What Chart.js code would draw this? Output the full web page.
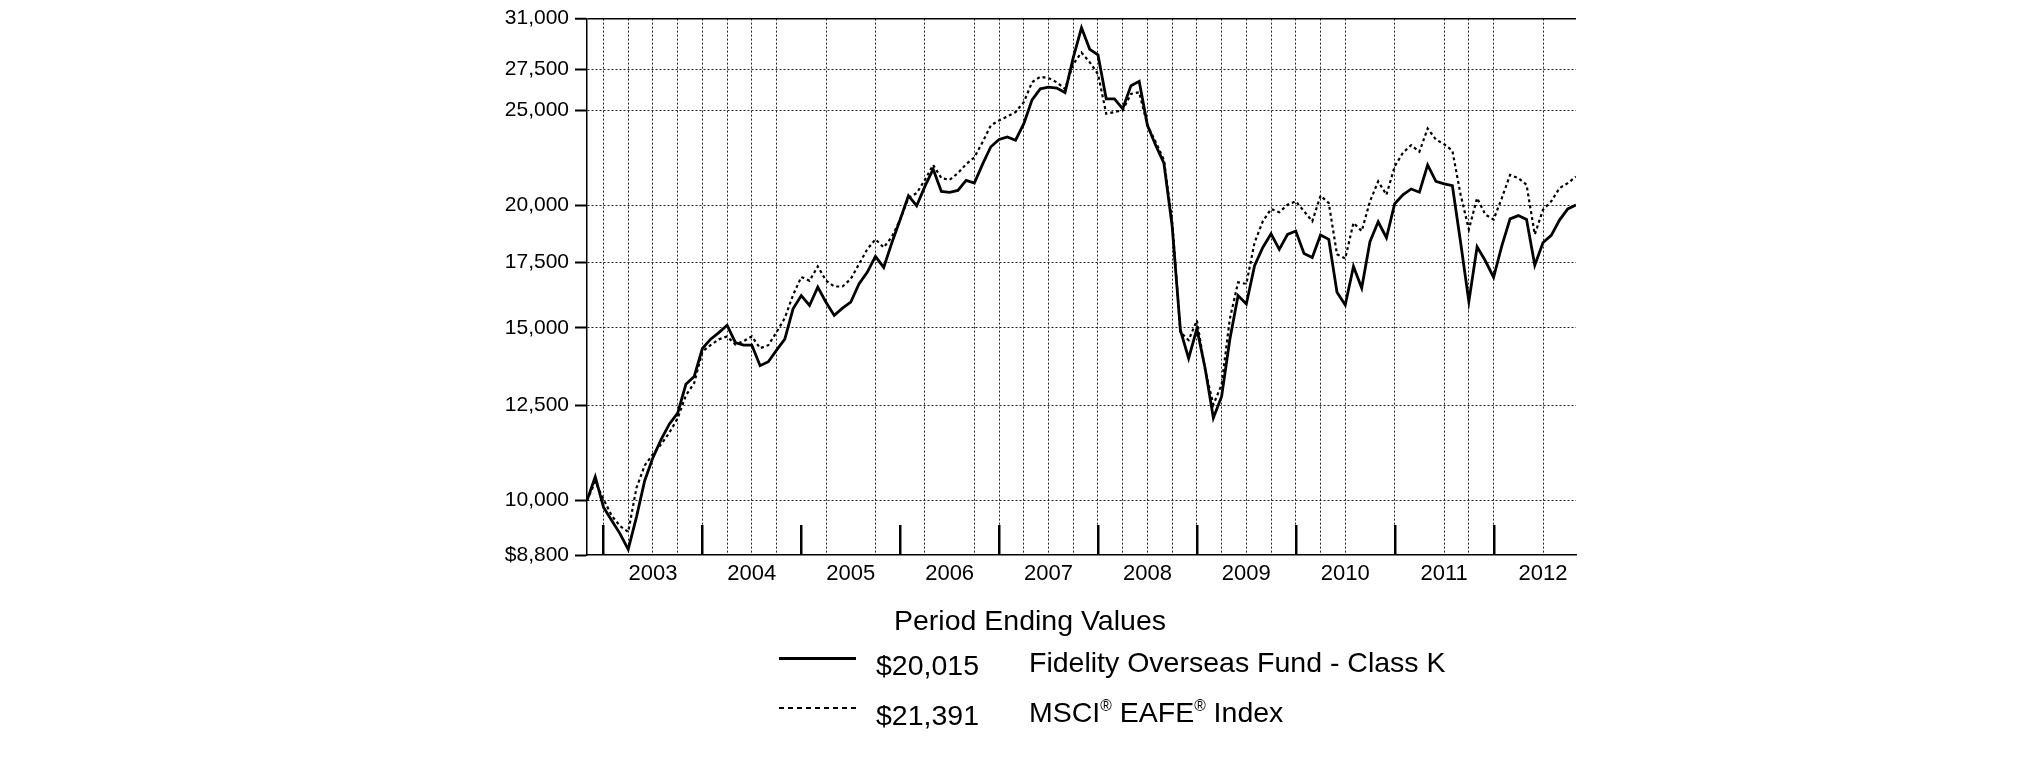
<!DOCTYPE html>
<html>
<head>
<meta charset="utf-8">
<script src="https://cdn.jsdelivr.net/npm/chart.js@4.4.1/dist/chart.umd.min.js"></script>
<style>
  html, body { margin: 0; padding: 0; background: #fff; }
  body { width: 2025px; height: 761px; position: relative; overflow: hidden;
         font-family: 'Liberation Sans', Arial, sans-serif; color: #000; }
  #chart { position: absolute; left: 0; top: 0; }
  .lg { position: absolute; font-size: 28.5px; line-height: 34px; white-space: pre; }
  .lg sup { font-size: 55%; vertical-align: 0.7em; line-height: 0; }
  .swatch { position: absolute; left: 779px; width: 77px; }
  .solid { height: 3px; background: #000; }
  .dashed { height: 2px; background: repeating-linear-gradient(to right, #000 0 5px, transparent 5px 9px); }
</style>
</head>
<body>
<canvas id="chart" width="2025" height="761"></canvas>

<div class="lg" style="left:830px; width:400px; text-align:center; top:603px;">Period Ending Values</div>
<div class="swatch solid" style="top:657px;"></div>
<div class="lg" style="left:876px; top:648px;">$20,015</div>
<div class="lg" style="left:1029px; top:645px;">Fidelity Overseas Fund - Class K</div>
<div class="swatch dashed" style="top:707px;"></div>
<div class="lg" style="left:876px; top:698px;">$21,391</div>
<div class="lg" style="left:1029px; top:695px;">MSCI<sup>®</sup> EAFE<sup>®</sup> Index</div>

<script>
Chart.defaults.font.family = "'Liberation Sans', Arial, sans-serif";
Chart.defaults.color = '#000';

// months counted from Oct 2002 (index 0) to Oct 2012 (index 120)
const yearLabels = ['2003', '2004', '2005', '2006', '2007', '2008', '2009', '2010', '2011', '2012'];
const yearLabelMonths = [8, 20, 32, 44, 56, 68, 80, 92, 104, 116];   // mid-year
const yearTickMonths = [2, 14, 26, 38, 50, 62, 74, 86, 98, 110];     // year ends
const gridMonths = [2, 5, 8, 11, 14, 17, 20, 23, 29, 35, 41, 47, 50, 53, 56, 59,
                    62, 65, 68, 71, 74, 77, 80, 83, 86, 89, 92, 98, 104, 107, 110, 116];
const yTicks = [8800, 10000, 12500, 15000, 17500, 20000, 25000, 27500, 31000];

const fundValues = [
  10000, 10575, 9845, 9545, 9254, 8917, 9619, 10477, 11061, 11543, 11970, 12281,
  13139, 13378, 14289, 14606, 14833, 15091, 14493, 14406, 14406, 13724, 13853, 14236,
  14606, 15684, 16180, 15808, 16503, 15930, 15444, 15709, 15930, 16631, 17087, 17738,
  17285, 18324, 19343, 20455, 19980, 20908, 21770, 20664, 20620, 20712, 21202, 21068,
  22026, 22945, 23338, 23484, 23300, 24226, 25617, 26286, 26390, 26340, 26058, 28290,
  30340, 28845, 28466, 25677, 25677, 25085, 26485, 26756, 24130, 23030, 22077, 19049,
  14917, 13959, 14969, 13640, 12140, 12770, 14600, 16180, 15862, 17353, 18113, 18708,
  18036, 18677, 18826, 17858, 17692, 18651, 18464, 16305, 15828, 17326, 16469, 18364,
  19238, 18534, 20073, 20500, 20781, 20623, 21988, 21153, 21035, 20938, 18324, 15959,
  18141, 17558, 16889, 18183, 19374, 19522, 19343, 17378, 18324, 18634, 19316, 19828,
  20015
];

const indexValues = [
  10000, 10450, 10030, 9650, 9420, 9290, 10300, 10860, 11150, 11410, 11730, 12130,
  12800, 13170, 14186, 14406, 14600, 14700, 14427, 14540, 14700, 14300, 14400, 14850,
  15350, 16200, 16900, 16750, 17326, 16760, 16528, 16528, 16822, 17418, 18036, 18464,
  18113, 18577, 19343, 20344, 20578, 21232, 21988, 21318, 21232, 21564, 22026, 22384,
  23200, 24130, 24411, 24638, 24893, 25483, 26695, 27045, 26960, 26695, 26286, 27864,
  28624, 27977, 27216, 24795, 24893, 25000, 25979, 26080, 24130, 23210, 22248, 19260,
  14850, 14571, 15265, 13589, 12526, 13122, 15323, 16690, 16631, 18324, 19260, 19828,
  19677, 20027, 20188, 19724, 19260, 20455, 20108, 17829, 17650, 19193, 18826, 20188,
  21153, 20500, 21909, 22627, 23030, 22680, 23950, 23338, 23082, 22734, 20500, 18897,
  20344, 19568, 19343, 20344, 21477, 21318, 20986, 18677, 19796, 20188, 20824, 21068,
  21391
];

function toPoints(arr){ return arr.map((v, i) => ({ x: i, y: v })); }
function fmtNum(v){ return String(v).replace(/\B(?=(\d{3})+(?!\d))/g, ','); }

// tall year-end marks rising from the bottom axis
const yearTicks = {
  id: 'yearTicks',
  beforeDatasetsDraw(chart){
    const { ctx, chartArea, scales } = chart;
    ctx.save();
    ctx.strokeStyle = '#000';
    ctx.lineWidth = 2.5;
    yearTickMonths.forEach(m => {
      const x = Math.round(scales.x.getPixelForValue(m)) + 0.25;
      ctx.beginPath();
      ctx.moveTo(x, chartArea.bottom);
      ctx.lineTo(x, chartArea.bottom - 30);
      ctx.stroke();
    });
    ctx.restore();
  }
};

const xTickValues = Array.from(new Set([...gridMonths, ...yearLabelMonths])).sort((a, b) => a - b);

new Chart(document.getElementById('chart'), {
  type: 'line',
  data: {
    datasets: [
      {
        label: 'Fidelity Overseas Fund - Class K',
        data: toPoints(fundValues),
        borderColor: '#000',
        borderWidth: 2.8,
        pointRadius: 0,
        tension: 0,
        fill: false
      },
      {
        label: 'MSCI EAFE Index',
        data: toPoints(indexValues),
        borderColor: '#000',
        borderWidth: 2.2,
        borderDash: [3, 3],
        pointRadius: 0,
        tension: 0,
        fill: false
      }
    ]
  },
  options: {
    responsive: false,
    animation: false,
    devicePixelRatio: 1,
    layout: { padding: { top: 14, right: 449, left: 0, bottom: 0 } },
    plugins: { legend: { display: false }, tooltip: { enabled: false } },
    scales: {
      x: {
        type: 'linear',
        min: 0,
        max: 120,
        afterBuildTicks: s => { s.ticks = xTickValues.map(v => ({ value: v })); },
        afterFit: s => { s.height = 206; },
        ticks: {
          autoSkip: false,
          maxRotation: 0,
          padding: 6,
          font: { size: 22 },
          color: '#000',
          callback: v => { const k = yearLabelMonths.indexOf(v); return k >= 0 ? yearLabels[k] : ''; }
        },
        grid: {
          drawTicks: false,
          lineWidth: 1,
          color: c => (c.tick && gridMonths.includes(c.tick.value)) ? '#222' : 'rgba(0,0,0,0)'
        },
        border: { display: true, color: '#000', width: 1.5, dash: [2, 2] }
      },
      y: {
        type: 'logarithmic',
        min: 8800,
        max: 31000,
        afterBuildTicks: s => { s.ticks = yTicks.map(v => ({ value: v })); },
        afterFit: s => { s.width = 587; },
        ticks: {
          autoSkip: false,
          padding: 6,
          font: { size: 21 },
          color: '#000',
          callback: v => (v === 8800 ? '$' : '') + fmtNum(v)
        },
        grid: {
          drawTicks: true,
          tickLength: 12,
          tickWidth: 2,
          tickColor: '#000',
          lineWidth: c => (c.tick && c.tick.value === 31000) ? 1.5 : 1,
          color: c => {
            const v = c.tick && c.tick.value;
            if (v === 8800) return 'rgba(0,0,0,0)';
            return v === 31000 ? '#000' : '#222';
          }
        },
        border: {
          display: true, color: '#000', width: 1.5,
          dash: c => (c.tick && c.tick.value === 31000) ? [] : [2, 2]
        }
      }
    }
  },
  plugins: [yearTicks]
});
</script>
</body>
</html>
